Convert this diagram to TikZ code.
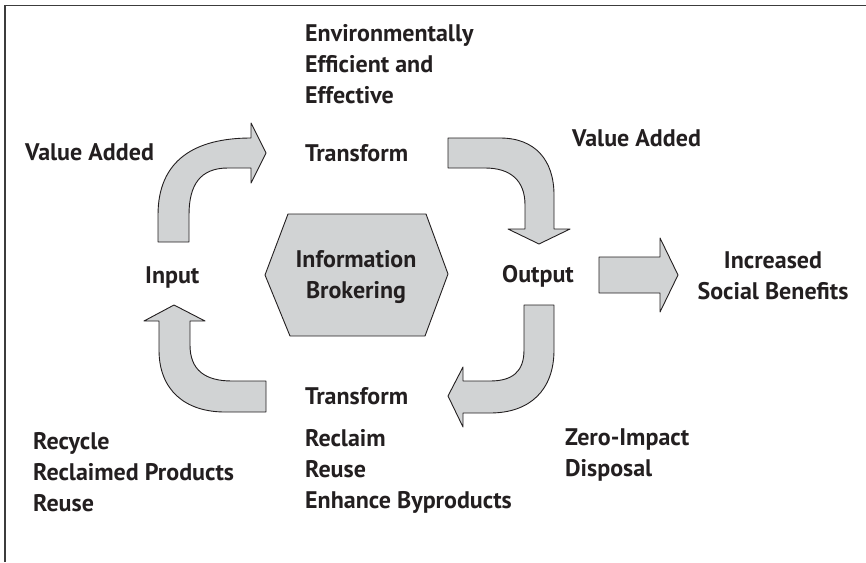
\documentclass[tikz,border=0pt]{standalone}
\usepackage{fontspec}
\setmainfont{PT Sans}
\definecolor{shade}{RGB}{209,211,212}
\definecolor{edge}{RGB}{35,31,32}
\definecolor{txt}{RGB}{35,31,32}
\definecolor{frame}{RGB}{60,60,60}
\begin{document}
\begin{tikzpicture}[x=1pt,y=-1pt,
  lbl/.style={font=\fontsize{24}{31}\selectfont\bfseries, text=txt, inner sep=0pt, align=left},
  shp/.style={fill=shade, draw=edge, line width=0.9pt, line join=round}]
\useasboundingbox (0,0) rectangle (866,562);
\draw[line width=1.6pt, draw=frame] (5,562) -- (5,5.5) -- (866,5.5);
% top-left curved arrow
\path[shp] (158,242) -- (158,215) .. controls (158,160) and (195,138) .. (251,138) -- (251,123) -- (266,153) -- (251,183) -- (251,168) -- (228,168) .. controls (200,168) and (189,185) .. (189,215) -- (189,242) -- cycle;
% top-right curved arrow
\path[shp] (448,138) -- (500,138) .. controls (535,138) and (554,160) .. (554,195) -- (554,229) -- (570,229) -- (539,244) -- (508,229) -- (525,229) -- (525,205) .. controls (525,180) and (510,168) .. (485,168) -- (448,168) -- cycle;
% straight arrow
\path[shp] (599,257) -- (660,257) -- (660,238) -- (678,275) -- (660,312) -- (660,293) -- (599,293) -- cycle;
% bottom-right curved arrow
\path[shp] (524,305) -- (554,305) -- (554,350) .. controls (554,390) and (530,413) .. (490,413) -- (463,413) -- (463,427) -- (448,396) -- (463,367) -- (463,381) -- (490,381) .. controls (512,381) and (524,372) .. (524,350) -- cycle;
% bottom-left curved arrow
\path[shp] (266,381) -- (232,381) .. controls (205,381) and (190,370) .. (190,345) -- (190,321) -- (205,321) -- (174,305) -- (144,321) -- (159,321) -- (159,350) .. controls (159,390) and (185,412) .. (225,412) -- (266,412) -- cycle;
% hexagon
\path[shp] (288,214) -- (426,214) -- (448,274) -- (425,336) -- (290,336) -- (265,275) -- cycle;
% texts
\node[lbl, anchor=west] (env) at (305,64) {Environmentally\\Efficient and\\Effective};
\node[lbl, anchor=west] (va1) at (25,152) {Value Added};
\node[lbl, anchor=west] (tr1) at (305,153) {Transform};
\node[lbl, anchor=west] (va2) at (572,138) {Value Added};
\node[lbl, anchor=west] (inp) at (145,277) {Input};
\node[lbl, align=center] (info) at (356,277) {Information\\Brokering};
\node[lbl, anchor=west] (out) at (502,276) {Output};
\node[lbl, align=center] (soc) at (773,276) {Increased\\Social Benefits};
\node[lbl, anchor=west] (tr2) at (305,396) {Transform};
\node[lbl, anchor=west] (zero) at (565,455) {Zero-Impact\\Disposal};
\node[lbl, anchor=west] (rec) at (33,472) {Recycle\\Reclaimed Products\\Reuse};
\node[lbl, anchor=west] (recl) at (305,471) {Reclaim\\Reuse\\Enhance Byproducts};
\end{tikzpicture}
\end{document}
